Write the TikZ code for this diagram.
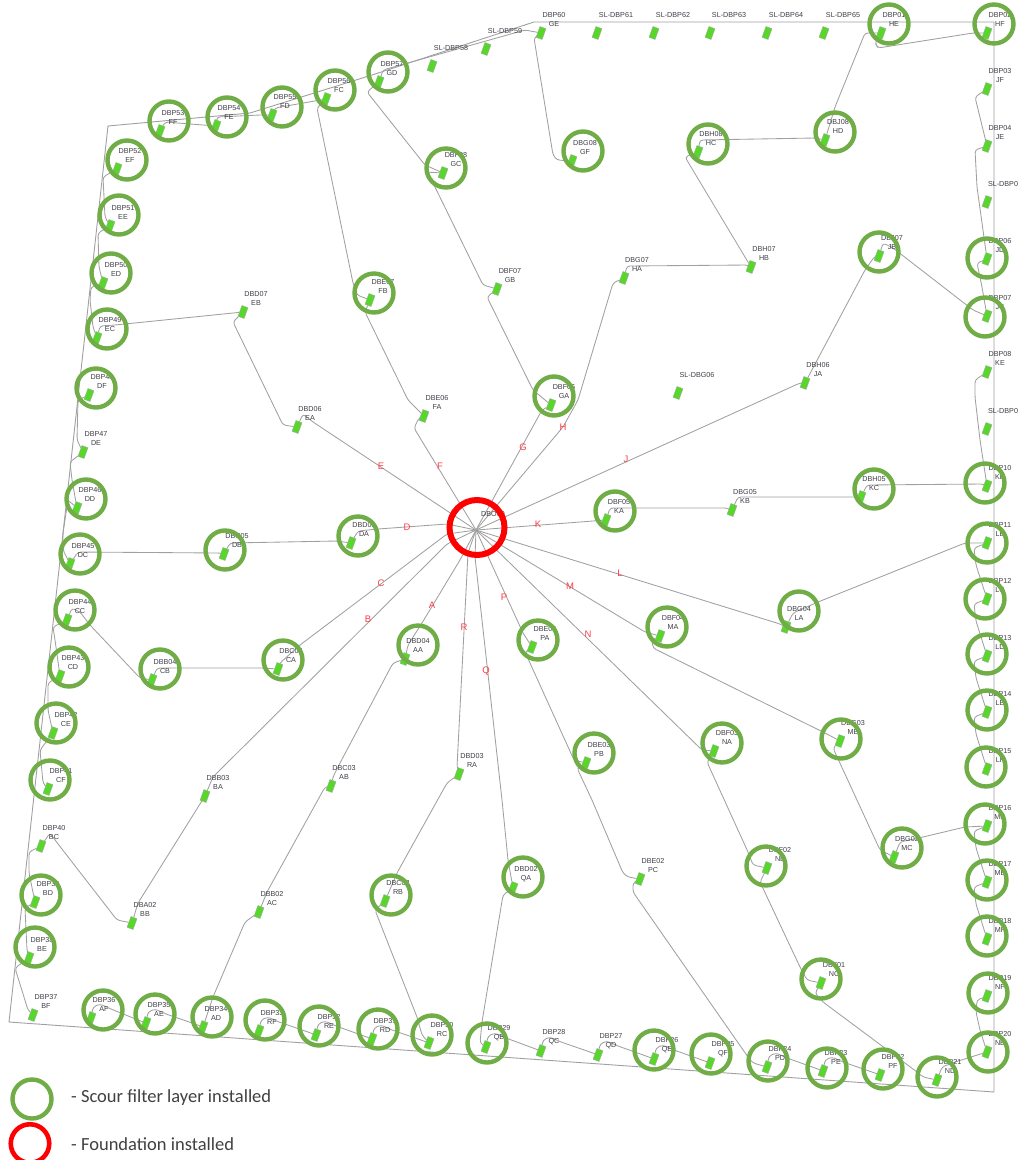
\documentclass[tikz,border=0pt]{standalone}
\usepackage{fontspec}
\setmainfont{Liberation Sans}
\newfontfamily\legendfont{Carlito}
\pgfdeclarelayer{cablelayer}
\pgfdeclarelayer{toplayer}
\pgfsetlayers{cablelayer,main,toplayer}
\definecolor{ringgreen}{RGB}{112,173,71}
\definecolor{markgreen}{RGB}{88,214,44}
\definecolor{labgray}{RGB}{62,62,72}
\definecolor{linegray}{RGB}{160,160,160}
\definecolor{letred}{RGB}{255,60,70}
\tikzset{
  marker/.style={draw=gray!70,line width=0.3pt,fill=markgreen,rectangle,minimum width=6.5pt,minimum height=11.5pt,inner sep=0pt,rotate=-20},
  lab/.style={font=\fontsize{7.2}{9.1}\selectfont,text=labgray,align=center,inner sep=0pt},
  ringg/.style={circle,draw=ringgreen,line width=4.4pt,minimum size=39pt,inner sep=0pt},
  ringr/.style={circle,draw=red,line width=6pt,minimum size=55pt,inner sep=0pt},
  cable/.style={draw=linegray,line width=0.85pt,rounded corners=3pt},
  boundary/.style={draw=linegray,line width=0.9pt},
  letter/.style={font=\fontsize{9.5}{10}\selectfont,text=letred,inner sep=0pt},
  legendtext/.style={font=\legendfont\fontsize{18.5}{20}\selectfont,text=black!75,anchor=west,inner sep=0pt}
}
\newcommand\tbase[3]{%
  \node[marker] (#1) at (#2,#3) {};
  \coordinate (#1t) at (#2+2,#3-11);
  \coordinate (#1h) at (#2+9,#3-14);
  \coordinate (#1r) at (#2+20,#3-9);
  \coordinate (#1l) at (#2-8,#3-3);
  \coordinate (#1a) at (#2-13,#3+5);
  \coordinate (#1b) at (#2-11,#3+22);
}
\newcommand\tbn[5]{\tbase{#1}{#2}{#3}\node[lab] (#1lab) at (#2+13,#3-13.5) {#4\\#5};}
\newcommand\sltb[4]{\tbase{#1}{#2}{#3}\node[lab] (#1lab) at (#2+19,#3-18) {#4};}
\newcommand\trg[7]{\tbn{#1}{#2}{#3}{#4}{#5}\begin{pgfonlayer}{toplayer}\node[ringg] (r#1) at (#6,#7) {};\end{pgfonlayer}}
\newcommand\rightlink[2]{\draw[cable] (#1) -- (#1a) -- (#1b) -- (#2);}
\newcommand\botlink[2]{\draw[cable] (#1) -- (#1t) -- (#1h) -- (#1r) -- (#2l) -- (#2);}
\begin{document}
\begin{tikzpicture}[x=1pt,y=-1pt]
\useasboundingbox (0,0) rectangle (1020,1160);
\clip (0,0) rectangle (1020,1160);
\coordinate (hub) at (476,530);
% top row
\sltb{S58}{432}{66}{SL-DBP58}
\sltb{S59}{486}{49}{SL-DBP59}
\tbn{GE}{541}{33}{DBP60}{GE}
\sltb{S61}{597}{33}{SL-DBP61}
\sltb{S62}{654}{33}{SL-DBP62}
\sltb{S63}{710}{33}{SL-DBP63}
\sltb{S64}{767}{33}{SL-DBP64}
\sltb{S65}{824}{33}{SL-DBP65}
\trg{HE}{881}{33}{DBP01}{HE}{889}{24}
\trg{HF}{987}{33}{DBP02}{HF}{994}{24}
% right column
\tbn{JF}{987}{89}{DBP03}{JF}
\tbn{JE}{987}{146}{DBP04}{JE}
\tbase{S05}{987}{202}\node[lab] (S05lab) at (1003,184) {SL-DBP0};
\trg{JD}{987}{259}{DBP06}{JD}{987}{258}
\trg{JC}{987}{316}{DBP07}{JC}{985}{317}
\tbn{KE}{987}{372}{DBP08}{KE}
\tbase{S09}{987}{429}\node[lab] (S09lab) at (1003,411) {SL-DBP0};
\trg{KD}{987}{486}{DBP10}{KD}{985}{483}
\trg{LB}{987}{543}{DBP11}{LB}{987}{543}
\trg{LC}{987}{599}{DBP12}{LC}{985}{599}
\trg{LD}{987}{656}{DBP13}{LD}{987}{654}
\trg{LE}{987}{712}{DBP14}{LE}{987}{710}
\trg{LF}{987}{769}{DBP15}{LF}{986}{767}
\trg{MD}{987}{826}{DBP16}{MD}{985}{824}
\trg{ME}{987}{882}{DBP17}{ME}{987}{880}
\trg{MF}{987}{939}{DBP18}{MF}{987}{936}
\trg{NF}{987}{996}{DBP19}{NF}{988}{993}
\trg{NE}{987}{1052}{DBP20}{NE}{988}{1052}
% bottom row
\trg{ND}{937}{1080}{DBP21}{ND}{937}{1077}
\trg{PF}{880}{1075}{DBP22}{PF}{883}{1069}
\trg{PE}{823}{1071}{DBP23}{PE}{827}{1068}
\trg{PD}{767}{1067}{DBP24}{PD}{768}{1061}
\trg{QF}{710}{1063}{DBP25}{QF}{711}{1054}
\trg{QE}{654}{1059}{DBP26}{QE}{654}{1050}
\tbn{QD}{598}{1055}{DBP27}{QD}
\tbn{QC}{541}{1051}{DBP28}{QC}
\trg{QB}{486}{1047}{DBP29}{QB}{487}{1043}
\trg{RC}{429}{1043}{DBP30}{RC}{432}{1035}
\trg{RD}{372}{1039}{DBP31}{RD}{378}{1029}
\trg{RE}{316}{1035}{DBP32}{RE}{319}{1026}
\trg{RF}{259}{1031}{DBP33}{RF}{265}{1020}
\trg{AD}{203}{1027}{DBP34}{AD}{212}{1017}
\trg{AE}{146}{1023}{DBP35}{AE}{155}{1014}
\trg{AF}{91}{1018}{DBP36}{AF}{103}{1010}
% left column
\tbn{BF}{33}{1015}{DBP37}{BF}
\trg{BE}{29}{958}{DBP38}{BE}{35}{947}
\trg{BD}{35}{902}{DBP39}{BD}{41}{895}
\tbn{BC}{41}{846}{DBP40}{BC}
\trg{CF}{48}{789}{DBP41}{CF}{50}{780}
\trg{CE}{53}{733}{DBP42}{CE}{56}{723}
\trg{CD}{60}{676}{DBP43}{CD}{69}{667}
\trg{CC}{67}{620}{DBP44}{CC}{75}{610}
\trg{DC}{70}{564}{DBP45}{DC}{80}{554}
\trg{DD}{77}{508}{DBP46}{DD}{86}{499}
\tbn{DE}{83}{452}{DBP47}{DE}
\trg{DF}{89}{395}{DBP48}{DF}{96}{388}
\trg{EC}{97}{338}{DBP49}{EC}{107}{329}
\trg{ED}{103}{283}{DBP50}{ED}{111}{273}
\trg{EE}{110}{226}{DBP51}{EE}{119}{215}
\trg{EF}{117}{169}{DBP52}{EF}{127}{160}
\trg{FF}{160}{131}{DBP53}{FF}{169}{121}
\trg{FE}{216}{126}{DBP54}{FE}{227}{117}
\trg{FD}{272}{115}{DBP55}{FD}{282}{107}
\trg{FC}{326}{99}{DBP56}{FC}{335}{90}
\trg{GD}{379}{82}{DBP57}{GD}{388}{72}
% interior
\tbn{EB}{243}{312}{DBD07}{EB}
\tbn{EA}{297}{427}{DBD06}{EA}
\trg{FB}{370}{300}{DBE07}{FB}{374}{293}
\tbn{FA}{424}{416}{DBE06}{FA}
\trg{GC}{443}{173}{DBF08}{GC}{446}{168}
\tbn{GB}{497}{289}{DBF07}{GB}
\trg{GA}{551}{405}{DBF06}{GA}{554}{396}
\trg{GF}{572}{161}{DBG08}{GF}{583}{151}
\tbn{HA}{624}{278}{DBG07}{HA}
\tbn{HB}{751}{267}{DBH07}{HB}
\trg{HC}{698}{152}{DBH08}{HC}{708}{144}
\trg{HD}{825}{140}{DBJ08}{HD}{835}{132}
\trg{JB}{879}{256}{DBJ07}{JB}{879}{252}
\tbn{JA}{805}{383}{DBH06}{JA}
\sltb{SG6}{678}{393}{SL-DBG06}
\trg{KC}{861}{497}{DBH05}{KC}{874}{489}
\tbn{KB}{732}{510}{DBG05}{KB}
\trg{KA}{606}{520}{DBF05}{KA}{615}{511}
\trg{LA}{786}{627}{DBG04}{LA}{799}{611}
\trg{MA}{660}{636}{DBF04}{MA}{667}{627}
\trg{NA}{714}{751}{DBF03}{NA}{722}{743}
\trg{MB}{840}{741}{DBG03}{MB}{841}{739}
\trg{MC}{894}{857}{DBG02}{MC}{902}{848}
\trg{NB}{767}{868}{DBF02}{NB}{766}{866}
\trg{NC}{821}{983}{DBF01}{NC}{821}{979}
\trg{PA}{532}{647}{DBE04}{PA}{538}{640}
\trg{PB}{586}{763}{DBE03}{PB}{594}{753}
\tbn{PC}{640}{879}{DBE02}{PC}
\trg{QA}{513}{888}{DBD02}{QA}{523}{877}
\tbn{RA}{459}{774}{DBD03}{RA}
\trg{RB}{385}{901}{DBC02}{RB}{391}{895}
\trg{AA}{405}{659}{DBD04}{AA}{418}{645}
\tbn{AB}{331}{786}{DBC03}{AB}
\tbn{AC}{259}{912}{DBB02}{AC}
\tbn{BA}{205}{796}{DBB03}{BA}
\tbn{BB}{132}{923}{DBA02}{BB}
\trg{CA}{278}{669}{DBC04}{CA}{283}{660}
\trg{CB}{152}{680}{DBB04}{CB}{160}{669}
\trg{DA}{351}{543}{DBD05}{DA}{358}{536}
\trg{DB}{224}{554}{DBC05}{DB}{225}{550}
% hub
\node[lab] (hublab) at (493,514) {DBO09};
\begin{pgfonlayer}{toplayer}
\node[ringr] (hubring) at (477,527.5) {};
\end{pgfonlayer}
% string letters
\node[letter] (lA) at (432,605) {A};
\node[letter] (lB) at (368,619) {B};
\node[letter] (lC) at (381,583) {C};
\node[letter] (lD) at (407,527) {D};
\node[letter] (lE) at (381,466) {E};
\node[letter] (lF) at (440,466) {F};
\node[letter] (lG) at (523,447) {G};
\node[letter] (lH) at (563,427) {H};
\node[letter] (lJ) at (626,459) {J};
\node[letter] (lK) at (538,524) {K};
\node[letter] (lL) at (620,573) {L};
\node[letter] (lM) at (570,586) {M};
\node[letter] (lN) at (588,634) {N};
\node[letter] (lP) at (504,597) {P};
\node[letter] (lQ) at (486,671) {Q};
\node[letter] (lR) at (464,627) {R};
% legend
\node[ringg] (leg1) at (32,1099) {};
\node[ringr,minimum size=38.5pt,line width=4.6pt] (leg2) at (30,1143.5) {};
\node[legendtext] (leg1t) at (71,1098) {- Scour filter layer installed};
\node[legendtext] (leg2t) at (71,1144) {- Foundation installed};
\begin{pgfonlayer}{cablelayer}
% array boundary
\draw[boundary] (9,1022) -- (994,1092) -- (994,22) -- (534,22) -- (372,75) -- (250,113) -- (108,126) -- cycle;
% A
\draw[cable] (hub) -- (460,560) -- (422,623) -- (408,645) -- (AA);
\draw[cable] (AA) -- (393,663) -- (340,763) -- (333,777) -- (AB);
\draw[cable] (AB) -- (325,787) -- (267,892) -- (AC);
\draw[cable] (AC) -- (245,922) -- (213,997) -- (AD);
\botlink{AE}{AD}
\botlink{AF}{AE}
% B
\draw[cable] (hub) -- (447,544) -- (213,777) -- (BA);
\draw[cable] (BA) -- (138,903) -- (BB);
\draw[cable] (BB) -- (117,920) -- (55,840) -- (50,833) -- (BC);
\draw[cable] (BC) -- (29,852) -- (29,873) -- (BD);
\draw[cable] (BD) -- (25,908) -- (27,950) -- (BE);
\draw[cable] (BE) -- (15,968) -- (28,1010) -- (BF);
% C
\draw[cable] (hub) -- (447,534) -- (300,645) -- (280,663) -- (CA);
\draw[cable] (CA) -- (262,668) -- (157,668) -- (CB);
\draw[cable] (CB) -- (140,678) -- (90,625) -- (80,612) -- (72,608) -- (CC);
\draw[cable] (CC) -- (53,627) -- (55,640) -- (CD);
\draw[cable] (CD) -- (48,683) -- (48,710) -- (CE);
\draw[cable] (CE) -- (40,750) -- (43,783) -- (CF);
% D
\draw[cable] (hub) -- (447,524) -- (378,529) -- (358,531) -- (DA);
\draw[cable] (DA) -- (337,541) -- (230,543) -- (DB);
\draw[cable] (DB) -- (220,553) -- (78,552) -- (DC);
\draw[cable] (DC) -- (63,550) -- (63,533) -- (68,500) -- (DD);
\draw[cable] (DD) -- (72,480) -- (70,462) -- (DE);
\draw[cable] (DE) -- (77,440) -- (78,400) -- (DF);
% E
\draw[cable] (hub) -- (313,422) -- (303,414) -- (EA);
\draw[cable] (EA) -- (283,425) -- (233,322) -- (EB);
\draw[cable] (EB) -- (115,325) -- (100,326) -- (EC);
\draw[cable] (EC) -- (93,327) -- (90,300) -- (91,287) -- (ED);
\draw[cable] (ED) -- (99,267) -- (98,233) -- (EE);
\draw[cable] (EE) -- (105,217) -- (103,177) -- (EF);
% F
\draw[cable] (hub) -- (414,428) -- (419,418) -- (FA);
\draw[cable] (FA) -- (408,400) -- (365,312) -- (FB);
\draw[cable] (FB) -- (357,295) -- (353,283) -- (317,108) -- (FC);
\draw[cable] (FC) -- (275,108) -- (FD);
\draw[cable] (FD) -- (260,115) -- (217,117) -- (FE);
\draw[cable] (FE) -- (203,125) -- (165,122) -- (FF);
% G
\draw[cable] (hub) -- (542,410) -- (GA);
\draw[cable] (GA) -- (533,390) -- (487,297) -- (GB);
\draw[cable] (GB) -- (483,285) -- (433,183) -- (425,172) -- (GC);
\draw[cable] (GC) -- (425,165) -- (367,92) -- (GD);
\draw[cable] (GD) -- (383,70) -- (525,30) -- (GE);
\draw[cable] (GE) -- (534,38) -- (553,155) -- (557,160) -- (GF);
% H
\draw[cable] (hub) -- (563,427) -- (578,400) -- (613,283) -- (HA);
\draw[cable] (HA) -- (627,266) -- (748,265) -- (HB);
\draw[cable] (HB) -- (685,157) -- (HC);
\draw[cable] (HC) -- (700,140) -- (815,138) -- (HD);
\draw[cable] (HD) -- (835,107) -- (865,33) -- (HE);
\draw[cable] (HE) -- (875,43) -- (878,48) -- (973,33) -- (HF);
% J
\draw[cable] (hub) -- (800,383) -- (JA);
\draw[cable] (JA) -- (865,270) -- (875,256) -- (JB);
\draw[cable] (JB) -- (883,243) -- (893,248) -- (973,310) -- (JC);
\draw[cable] (JC) -- (982,287) -- (977,263) -- (JD);
\draw[cable] (JD) -- (977,187) -- (975,150) -- (JE);
\draw[cable] (JE) -- (975,97) -- (JF);
% K
\draw[cable] (hub) -- (KA);
\draw[cable] (KA) -- (610,508) -- (727,508) -- (KB);
\draw[cable] (KB) -- (738,497) -- (853,497) -- (KC);
\draw[cable] (KC) -- (867,485) -- (983,484) -- (KD);
\draw[cable] (KD) -- (980,440) -- (975,397) -- (975,380) -- (KE);
% L
\draw[cable] (hub) -- (780,624) -- (LA);
\draw[cable] (LA) -- (793,613) -- (818,602) -- (965,543) -- (LB);
\rightlink{LB}{LC}
\rightlink{LC}{LD}
\rightlink{LD}{LE}
\rightlink{LE}{LF}
% M
\draw[cable] (hub) -- (645,632) -- (MA);
\draw[cable] (MA) -- (652,640) -- (653,648) -- (827,734) -- (MB);
\draw[cable] (MB) -- (833,748) -- (880,850) -- (MC);
\draw[cable] (MC) -- (900,842) -- (923,837) -- (965,827) -- (MD);
\rightlink{MD}{ME}
\rightlink{ME}{MF}
% N
\draw[cable] (hub) -- (702,750) -- (NA);
\draw[cable] (NA) -- (707,762) -- (748,852) -- (753,865) -- (NB);
\draw[cable] (NB) -- (760,882) -- (800,967) -- (807,980) -- (NC);
\draw[cable] (NC) -- (815,993) -- (823,1002) -- (917,1072) -- (923,1077) -- (ND);
\draw[cable] (ND) -- (942,1067) -- (955,1062) -- (NE);
\draw[cable] (NE) -- (980,1030) -- (976,1012) -- (977,1000) -- (NF);
% P
\draw[cable] (hub) -- (523,633) -- (PA);
\draw[cable] (PA) -- (525,652) -- (574,760) -- (PB);
\draw[cable] (PB) -- (577,768) -- (592,800) -- (623,873) -- (628,877) -- (PC);
\draw[cable] (PC) -- (633,883) -- (633,892) -- (748,1057) -- (753,1063) -- (PD);
\botlink{PD}{PE}
\botlink{PE}{PF}
% Q
\draw[cable] (hub) -- (475,557) -- (502,800) -- (508,860) -- (QA);
\draw[cable] (QA) -- (503,895) -- (482,1022) -- (480,1043) -- (QB);
\botlink{QB}{QC}
\botlink{QC}{QD}
\botlink{QD}{QE}
\botlink{QE}{QF}
% R
\draw[cable] (hub) -- (468,553) -- (457,767) -- (RA);
\draw[cable] (RA) -- (447,783) -- (397,873) -- (RB);
\draw[cable] (RB) -- (375,910) -- (417,1017) -- (422,1035) -- (RC);
\botlink{RD}{RC}
\botlink{RE}{RD}
\botlink{RF}{RE}
\end{pgfonlayer}
\end{tikzpicture}
\end{document}
